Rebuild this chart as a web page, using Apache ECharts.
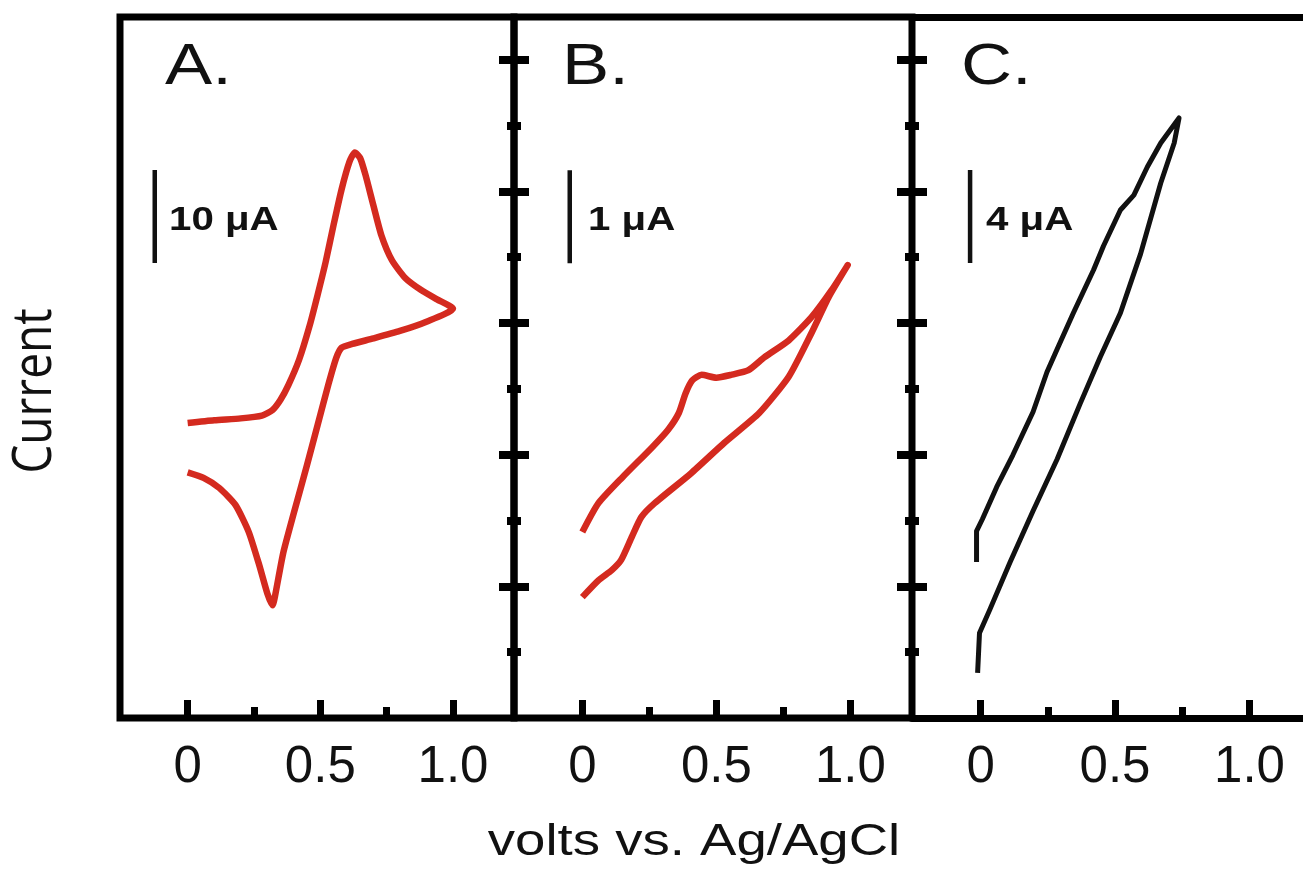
<!DOCTYPE html>
<html>
<head>
<meta charset="utf-8">
<script src="https://cdn.jsdelivr.net/npm/echarts@6/dist/echarts.min.js"></script>
<style>
  html, body { margin: 0; padding: 0; background: #fff; }
  #chart { width: 1303px; height: 873px; }
</style>
</head>
<body>
<div id="chart"></div>
<script>
// potential axis (V vs Ag/AgCl)
const voltTicks = [0, 0.5, 1.0];
const voltTickLabels = ['0', '0.5', '1.0'];
const voltMinorTicks = [0.25, 0.75];

// divider tick marks (arbitrary divisions)
const divMajor = [2, 4, 6, 8, 10];
const divMinor = [1, 3, 5, 7, 9];

// panel A: [V, µA], forward scan then reverse scan
const cvA = [
  [0.00, 0.0], [0.10, 0.3], [0.20, 0.5], [0.28, 0.8], [0.32, 1.4], [0.35, 2.5],
  [0.38, 4.1], [0.42, 6.8], [0.46, 10.5], [0.49, 13.8], [0.52, 17.3], [0.55, 21.3],
  [0.58, 25.1], [0.61, 28.1], [0.63, 29.1], [0.65, 28.5], [0.67, 26.7], [0.70, 23.4],
  [0.73, 20.2], [0.77, 17.5], [0.82, 15.6], [0.88, 14.3], [0.94, 13.3], [1.00, 12.3],
  [0.90, 10.9], [0.80, 9.9], [0.70, 9.1], [0.62, 8.5], [0.58, 8.1], [0.56, 7.0],
  [0.53, 4.1], [0.49, -0.2], [0.45, -4.5], [0.40, -9.7], [0.36, -14.0], [0.33, -18.5],
  [0.32, -19.6], [0.30, -18.3], [0.27, -15.3], [0.23, -11.7], [0.18, -8.8], [0.12, -7.0],
  [0.06, -5.9], [0.00, -5.3]
];

// panel B: [V, µA]
const cvB = [
  [0.00, 0.00], [0.06, 0.31], [0.15, 0.59], [0.26, 0.91], [0.32, 1.10], [0.36, 1.28],
  [0.385, 1.49], [0.41, 1.63], [0.445, 1.69], [0.50, 1.66], [0.555, 1.69], [0.62, 1.74],
  [0.68, 1.88], [0.77, 2.06], [0.855, 2.31], [0.93, 2.60], [0.99, 2.87],
  [0.92, 2.53], [0.855, 2.14], [0.77, 1.67], [0.66, 1.28], [0.53, 0.96], [0.405, 0.63],
  [0.27, 0.31], [0.22, 0.16], [0.185, -0.05], [0.145, -0.30], [0.11, -0.41], [0.06, -0.52],
  [0.00, -0.70]
];

// panel C: [V, µA]
const cvC = [
  [-0.015, 0.0], [-0.015, 1.33], [0.007, 1.85], [0.06, 3.23], [0.12, 4.60], [0.195, 6.45],
  [0.247, 8.17], [0.285, 9.16], [0.345, 10.71], [0.42, 12.56], [0.457, 13.59], [0.52, 15.14],
  [0.57, 15.78], [0.62, 16.99], [0.67, 18.02], [0.738, 19.10],
  [0.72, 18.02], [0.67, 16.30], [0.595, 13.25], [0.52, 10.71], [0.445, 8.82], [0.37, 6.80],
  [0.285, 4.43], [0.195, 2.19], [0.11, 0.0], [0.034, -2.06], [-0.004, -3.05], [-0.011, -4.77]
];

// scale bar lengths in µA
const scaleBars = [10, 1, 4];
const scaleBarLabels = ['10 μA', '1 μA', '4 μA'];
const panelLetters = ['A.', 'B.', 'C.'];

const red = '#d42a1f';
// panel C is cut off at the right edge of the page (no right border)
const panels = [
  { left: 120, width: 394, xMax: 1.23, yMin: -31.72, yMax: 43.66, data: cvA, color: red, lw: 6.5, smooth: 0.2,
    barX: -0.124, barY: 17.2, labelX: 169, letterX: 165, border: true },
  { left: 514, width: 398, xMax: 1.23, yMin: -2.0, yMax: 5.538, data: cvB, color: red, lw: 6.5, smooth: 0.2,
    barX: -0.047, barY: 2.89, labelX: 588, letterX: 562, border: true },
  { left: 912, width: 391, xMax: 1.199, yMin: -6.71, yMax: 23.44, data: cvC, color: '#111', lw: 5, smooth: false,
    barX: -0.039, barY: 12.86, labelX: 986, letterX: 961, border: false }
];

const grid = [], xAxis = [], yAxis = [], series = [], graphic = [];

panels.forEach((p, i) => {
  grid.push({
    left: p.left, top: 17, width: p.width, height: 701,
    show: p.border, borderWidth: 7, borderColor: '#000', backgroundColor: 'transparent'
  });
  // main ticks + labels
  xAxis.push({
    gridIndex: i, type: 'value', min: -0.255, max: p.xMax, position: 'bottom',
    axisLine: { show: !p.border, onZero: false, lineStyle: { color: '#000', width: 7 } },
    splitLine: { show: false },
    axisTick: { show: true, inside: true, length: 18, customValues: voltTicks,
      lineStyle: { color: '#000', width: 7 } },
    axisLabel: {
      customValues: voltTicks, margin: 24, fontSize: 51, color: '#111',
      fontFamily: 'Liberation Sans',
      formatter: v => voltTickLabels[voltTicks.indexOf(v)]
    }
  });
  // minor ticks
  xAxis.push({
    gridIndex: i, type: 'value', min: -0.255, max: p.xMax, position: 'bottom',
    axisLine: { show: false, onZero: false }, splitLine: { show: false }, axisLabel: { show: false },
    axisTick: { show: true, inside: true, length: 11, customValues: voltMinorTicks,
      lineStyle: { color: '#000', width: 7 } }
  });
  yAxis.push({
    gridIndex: i, type: 'value', min: p.yMin, max: p.yMax, show: false,
    axisLine: { onZero: false }
  });

  series.push({
    type: 'line', xAxisIndex: i * 2, yAxisIndex: i, data: p.data,
    symbol: 'none', smooth: p.smooth, animation: false,
    lineStyle: { color: p.color, width: p.lw, join: 'round' }
  });
  // scale bar
  series.push({
    type: 'line', xAxisIndex: i * 2, yAxisIndex: i,
    data: [[p.barX, p.barY], [p.barX, p.barY + scaleBars[i]]],
    symbol: 'none', animation: false,
    lineStyle: { color: '#111', width: 4.5 }
  });

  graphic.push({
    type: 'text', x: p.letterX, y: 68, scaleX: 1.22,
    style: { text: panelLetters[i], font: 'normal 58px "Liberation Sans"', fill: '#111',
      align: 'left', verticalAlign: 'middle' }
  });
  graphic.push({
    type: 'text', x: p.labelX, y: 221, scaleX: 1.22,
    style: { text: scaleBarLabels[i], font: 'bold 33px "Liberation Sans"', fill: '#111',
      align: 'left', verticalAlign: 'middle' }
  });
});

// top edge of panel C
xAxis.push({
  gridIndex: 2, type: 'value', min: -0.255, max: 1.199, position: 'top',
  axisLine: { show: true, onZero: false, lineStyle: { color: '#000', width: 7 } },
  axisTick: { show: false }, axisLabel: { show: false }, splitLine: { show: false }
});

// divider tick marks on the B and C left edges (crossing the line)
[1, 2].forEach(g => {
  yAxis.push({
    gridIndex: g, type: 'value', min: 0, max: 10.65, position: 'left', offset: -15,
    axisLine: { show: false, onZero: false }, axisLabel: { show: false }, splitLine: { show: false },
    axisTick: { show: true, length: 30, customValues: divMajor, lineStyle: { color: '#000', width: 8 } }
  });
  yAxis.push({
    gridIndex: g, type: 'value', min: 0, max: 10.65, position: 'left', offset: -7,
    axisLine: { show: false, onZero: false }, axisLabel: { show: false }, splitLine: { show: false },
    axisTick: { show: true, length: 14, customValues: divMinor, lineStyle: { color: '#000', width: 8 } }
  });
});

graphic.push({
  type: 'text', x: 694, y: 843, scaleX: 1.24,
  style: { text: 'volts vs. Ag/AgCl', font: 'normal 44px "Liberation Sans"', fill: '#111',
    align: 'center', verticalAlign: 'middle' }
});
graphic.push({
  type: 'text', x: 35, y: 391, rotation: Math.PI / 2, scaleY: 1.2,
  style: { text: 'Current', font: 'normal 46px "Open Sans"', fill: '#111',
    align: 'center', verticalAlign: 'middle' }
});

const chart = echarts.init(document.getElementById('chart'));
chart.setOption({
  animation: false,
  backgroundColor: '#fff',
  grid: grid,
  xAxis: xAxis,
  yAxis: yAxis,
  series: series,
  graphic: graphic
});
</script>
</body>
</html>
